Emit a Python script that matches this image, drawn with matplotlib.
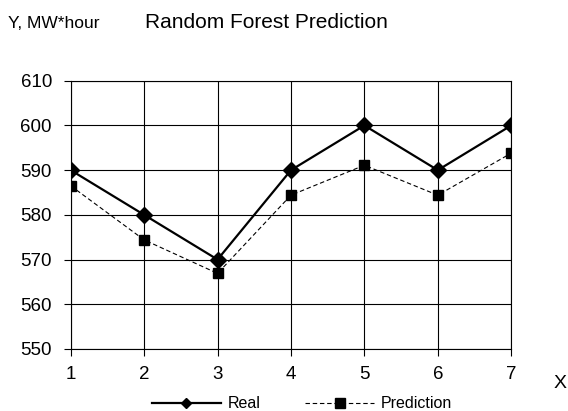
import matplotlib
matplotlib.use("Agg")
import matplotlib.pyplot as plt

plt.rcParams["font.family"] = ["Liberation Sans", "DejaVu Sans"]

x_vals = [1, 2, 3, 4, 5, 6, 7]
real = [590, 580, 570, 590, 600, 590, 600]
prediction = [586.5, 574.4, 566.9, 584.4, 591.1, 584.4, 593.8]
y_ticks = [550, 560, 570, 580, 590, 600, 610]

fig = plt.figure(figsize=(5.68, 4.11), dpi=100)
ax = fig.add_axes([0.1245, 0.151, 0.7755, 0.6525])

ax.plot(x_vals, real, color="black", linewidth=1.6, marker="D", markersize=8,
        label="Real", zorder=3)
ax.plot(x_vals, prediction, color="black", linewidth=0.8, linestyle=(0, (4, 2.5)),
        marker="s", markersize=6.5, label="Prediction", zorder=3)

ax.set_xlim(1, 7)
ax.set_ylim(550, 610)
ax.set_xticks(x_vals)
ax.set_yticks(y_ticks)
ax.grid(True, color="black", linewidth=0.8)
ax.tick_params(axis="both", direction="out", length=5, width=0.8, labelsize=13.5, color="black")
ax.tick_params(axis="y", pad=8.5)
ax.tick_params(axis="x", pad=7.5)
for spine in ax.spines.values():
    spine.set_linewidth(0.8)
    spine.set_color("black")

fig.text(0.014, 0.944, "Y, MW*hour", fontsize=12.5, va="center", ha="left")
fig.text(0.255, 0.946, "Random Forest Prediction", fontsize=15, va="center", ha="left")
fig.text(0.986, 0.066, "X", fontsize=14, va="center", ha="center")

leg = fig.legend(loc="center", bbox_to_anchor=(0.532, 0.018), ncol=2, frameon=False,
                 fontsize=11.5, handlelength=4.3, columnspacing=2.8, handletextpad=0.45)
leg.get_lines()[0].set_markersize(5.5)
leg.get_lines()[1].set_markersize(6.5)

fig.savefig("out.png", dpi=100, facecolor="white")
